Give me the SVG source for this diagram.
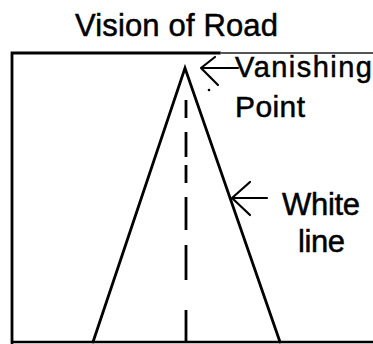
<svg xmlns="http://www.w3.org/2000/svg" width="373" height="344" viewBox="0 0 373 344">
<style>
text{font-family:"Liberation Sans",Arial,sans-serif;fill:#000;stroke:#000;stroke-width:0.5;}
.ln{stroke:#000;stroke-width:2.8;fill:none;stroke-linecap:round;}
.thin{stroke:#000;stroke-width:2.2;fill:none;stroke-linecap:round;stroke-linejoin:round;}
</style>
<rect width="373" height="344" fill="#fff"/>
<g id="title"><text x="75" y="36" font-size="31" textLength="203">Vision of Road</text></g>
<g id="frame">
<path class="ln" d="M12 343 V53 H220"/>
<path d="M220 53 H373" stroke="#555" stroke-width="1.8"/>
<path d="M12 342 H373" stroke="#000" stroke-width="2.4"/>
</g>
<g id="road">
<path class="ln" d="M93 342 L185 68 L280 342"/>
<path d="M186 100 V343" stroke="#000" stroke-width="2.8" stroke-dasharray="18 14 25 8 18 14 33 15 35 30 33"/>
<circle cx="209" cy="90" r="1.3" fill="#000"/>
</g>
<g id="vanishing-label">
<text x="235" y="77" font-size="29" textLength="137">Vanishing</text>
<text x="235" y="117" font-size="30" textLength="70">Point</text>
</g>
<g id="white-label">
<text x="282" y="215" font-size="31" textLength="78">White</text>
<text x="298" y="252" font-size="31" textLength="47">line</text>
</g>
<g id="connectors">
<path class="thin" d="M238 68 H201 M215 57 L201 68 L218 85"/>
<path class="thin" d="M267 198 H232 M250 182 L232 198 L250 215"/>
</g>
</svg>
